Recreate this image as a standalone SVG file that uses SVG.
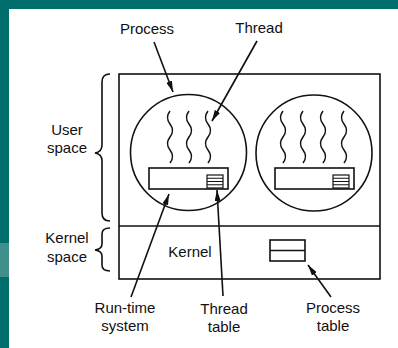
<svg xmlns="http://www.w3.org/2000/svg" width="398" height="348" viewBox="0 0 398 348">
<style>
.ln{fill:none;stroke:#111;stroke-width:1.6}
.sq{fill:none;stroke:#111;stroke-width:1.5}
.ar{fill:none;stroke:#111;stroke-width:1.6;marker-end:url(#ah)}
text{font-family:"Liberation Sans",Arial,sans-serif;font-size:15px;fill:#111;text-anchor:middle}
</style>
<defs>
<marker id="ah" viewBox="0 0 11 6" refX="11" refY="3" markerWidth="11" markerHeight="6" markerUnits="userSpaceOnUse" orient="auto">
<path d="M0,0 L11,3 L0,6 Z" fill="#111"/>
</marker>
<path id="sqg" d="M0,0 q-5,6.5 0,13 t0,13 t0,13 t0,13"/>
<g id="tbl">
<rect x="0" y="0" width="16" height="13" fill="none" stroke="#111" stroke-width="1.2"/>
<path d="M0,3.25 H16 M0,6.5 H16 M0,9.75 H16" stroke="#111" stroke-width="1"/>
</g>
</defs>
<rect x="0" y="0" width="398" height="348" fill="#006e6b"/>
<rect x="0" y="243" width="9" height="34" fill="#3f8f8c"/>
<rect x="9" y="9" width="389" height="339" fill="#ffffff"/>

<g id="outer">
<rect class="ln" x="119" y="74" width="261" height="205"/>
<line class="ln" x1="119" y1="226" x2="380" y2="226"/>
</g>

<g id="process1">
<circle class="ln" cx="188.5" cy="152.5" r="58"/>
<use href="#sqg" x="170" y="111" class="sq"/>
<use href="#sqg" x="189" y="111" class="sq"/>
<use href="#sqg" x="208" y="111" class="sq"/>
<rect class="ln" x="149" y="168" width="79" height="21"/>
<use href="#tbl" x="207" y="175"/>
</g>

<g id="process2">
<circle class="ln" cx="314" cy="153" r="58"/>
<use href="#sqg" x="283" y="111" class="sq"/>
<use href="#sqg" x="303" y="111" class="sq"/>
<use href="#sqg" x="323" y="111" class="sq"/>
<use href="#sqg" x="344" y="111" class="sq"/>
<rect class="ln" x="275" y="168" width="79" height="21"/>
<use href="#tbl" x="333" y="175"/>
</g>

<g id="kernel">
<text x="190" y="257">Kernel</text>
<rect class="ln" x="270" y="240" width="35" height="21"/>
<line class="ln" x1="270" y1="250.5" x2="305" y2="250.5"/>
</g>

<g id="braces">
<path class="ln" d="M110,74 Q102,74 102,82 L102,145 Q102,152 95,153 Q102,154 102,161 L102,213 Q102,221 110,221"/>
<path class="ln" d="M110,228 Q102,228 102,234 L102,244 Q102,249 95,250 Q102,251 102,256 L102,265 Q102,271 110,271"/>
</g>

<g id="labels">
<text x="147" y="34">Process</text>
<text x="259" y="33">Thread</text>
<text x="67" y="135">User</text>
<text x="67" y="153">space</text>
<text x="67" y="243">Kernel</text>
<text x="67" y="262">space</text>
<text x="125" y="313">Run-time</text>
<text x="125" y="331">system</text>
<text x="224" y="314">Thread</text>
<text x="224" y="332">table</text>
<text x="333" y="313">Process</text>
<text x="333" y="331">table</text>
</g>

<g id="connectors">
<line class="ar" x1="154" y1="42" x2="173" y2="92"/>
<line class="ar" x1="257" y1="41" x2="212" y2="121"/>
<line class="ar" x1="131" y1="297" x2="169" y2="194"/>
<line class="ar" x1="223" y1="296" x2="217" y2="190"/>
<line class="ar" x1="331" y1="297" x2="308" y2="265"/>
</g>
</svg>
